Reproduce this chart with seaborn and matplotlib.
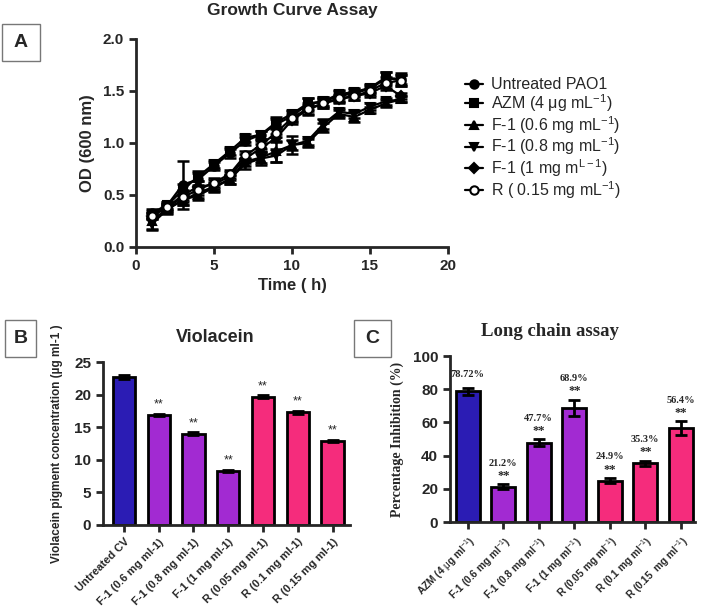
import numpy as np
import pandas as pd
import seaborn as sns
import matplotlib.pyplot as plt
from matplotlib.patches import Rectangle

# ---- data ----
hours = list(range(1, 18))

od_untreated = [0.33, 0.40, 0.60, 0.65, 0.78, 0.90, 1.02, 1.08, 1.18, 1.26, 1.37, 1.40, 1.45, 1.48, 1.52, 1.62, 1.62]
od_azm = [0.32, 0.40, 0.55, 0.68, 0.80, 0.92, 1.05, 1.08, 1.20, 1.28, 1.38, 1.40, 1.47, 1.49, 1.53, 1.63, 1.60]
od_f1_06 = [0.25, 0.37, 0.45, 0.50, 0.57, 0.65, 0.82, 0.86, 0.92, 0.98, 1.00, 1.15, 1.28, 1.25, 1.32, 1.38, 1.42]
od_f1_08 = [0.22, 0.36, 0.45, 0.52, 0.58, 0.65, 0.80, 0.85, 0.88, 0.98, 1.02, 1.18, 1.30, 1.28, 1.35, 1.40, 1.42]
od_f1_1 = [0.30, 0.38, 0.50, 0.58, 0.60, 0.68, 0.85, 0.95, 1.05, 1.22, 1.32, 1.38, 1.42, 1.45, 1.48, 1.55, 1.45]
od_r015 = [0.30, 0.38, 0.48, 0.55, 0.62, 0.70, 0.88, 0.98, 1.10, 1.24, 1.33, 1.38, 1.43, 1.45, 1.50, 1.58, 1.60]

err_untreated = [0.04, 0.03, 0.23, 0.06, 0.04, 0.04, 0.04, 0.04, 0.05, 0.05, 0.06, 0.04, 0.05, 0.04, 0.04, 0.06, 0.05]
err_azm = [0.03, 0.03, 0.06, 0.05, 0.04, 0.04, 0.04, 0.04, 0.05, 0.04, 0.05, 0.04, 0.04, 0.04, 0.04, 0.05, 0.05]
err_f1_06 = [0.08, 0.04, 0.05, 0.05, 0.04, 0.04, 0.04, 0.05, 0.10, 0.09, 0.04, 0.04, 0.04, 0.05, 0.03, 0.03, 0.03]
err_f1_08 = [0.06, 0.04, 0.05, 0.05, 0.04, 0.04, 0.05, 0.06, 0.06, 0.05, 0.04, 0.05, 0.04, 0.04, 0.03, 0.03, 0.03]
err_f1_1 = [0.03, 0.03, 0.05, 0.05, 0.04, 0.04, 0.04, 0.04, 0.04, 0.04, 0.05, 0.04, 0.04, 0.04, 0.04, 0.04, 0.03]
err_r015 = [0.03, 0.03, 0.05, 0.05, 0.04, 0.04, 0.04, 0.04, 0.04, 0.04, 0.05, 0.04, 0.04, 0.04, 0.04, 0.05, 0.05]

growth_labels = ['Untreated PAO1', r'AZM (4 $\mu$g mL$^{-1}$)', r'F-1 (0.6 mg mL$^{-1}$)',
                 r'F-1 (0.8 mg mL$^{-1}$)', r'F-1 (1 mg m$^{L-1}$)', r'R ( 0.15 mg mL$^{-1}$)']
growth_markers = ['o', 's', '^', 'v', 'D', 'o']

viol_labels = ['Untreated CV', 'F-1 (0.6 mg ml-1)', 'F-1 (0.8 mg ml-1)', 'F-1 (1 mg ml-1)',
               'R (0.05 mg ml-1)', 'R (0.1 mg ml-1)', 'R (0.15 mg ml-1)']
viol_values = [22.7, 16.9, 14.0, 8.3, 19.7, 17.3, 12.9]
viol_err = [0.25, 0.2, 0.2, 0.2, 0.2, 0.2, 0.2]

lc_labels = [r'AZM (4 $\mu$g ml$^{-1}$)', r'F-1 (0.6 mg ml$^{-1}$)', r'F-1 (0.8 mg ml$^{-1}$)',
             r'F-1 (1 mg ml$^{-1}$)', r'R (0.05 mg ml$^{-1}$)', r'R (0.1 mg ml$^{-1}$)',
             r'R (0.15  mg ml$^{-1}$)']
lc_values = [78.72, 21.2, 47.7, 68.9, 24.9, 35.3, 56.4]
lc_err = [2.2, 1.6, 2.2, 4.8, 1.6, 1.6, 4.2]
lc_text = ['78.72%', '21.2%', '47.7%', '68.9%', '24.9%', '35.3%', '56.4%']

bar_colors = ['#2b1cb4', '#a22ad2', '#a22ad2', '#a22ad2', '#f52c7c', '#f52c7c', '#f52c7c']

sns.set_style('ticks')
plt.rcParams['font.family'] = ['Liberation Sans', 'DejaVu Sans']
plt.rcParams['mathtext.fontset'] = 'custom'
plt.rcParams['mathtext.rm'] = 'Liberation Sans'
plt.rcParams['mathtext.it'] = 'Liberation Sans'
plt.rcParams['mathtext.bf'] = 'Liberation Sans:bold'

W, H = 702, 606
fig = plt.figure(figsize=(W / 100, H / 100), dpi=100)


def px_axes(x0, y0, x1, y1):
    return fig.add_axes([x0 / W, 1 - y1 / H, (x1 - x0) / W, (y1 - y0) / H])


def box(x0, y0, x1, y1, letter):
    fig.patches.append(Rectangle((x0 / W, 1 - y1 / H), (x1 - x0) / W, (y1 - y0) / H,
                                 transform=fig.transFigure, fill=False, edgecolor='#777777', lw=1))
    fig.text((x0 + x1) / 2 / W, 1 - (y0 + y1) / 2 / H, letter, ha='center', va='center',
             fontsize=14, fontweight='bold')


def style_axes(ax):
    sns.despine(ax=ax)
    for s in ['left', 'bottom']:
        ax.spines[s].set_linewidth(2)
    ax.tick_params(width=2, length=5)


# ---- Panel A ----
axA = px_axes(136, 39, 448, 247)
series = [od_untreated, od_azm, od_f1_06, od_f1_08, od_f1_1, od_r015]
errs = [err_untreated, err_azm, err_f1_06, err_f1_08, err_f1_1, err_r015]
for vals, er, lab, mk in zip(series, errs, growth_labels, growth_markers):
    face = 'white' if lab.startswith('R') else 'black'
    axA.errorbar(hours, vals, yerr=er, fmt='none', ecolor='black', elinewidth=1.8, capsize=4, capthick=1.8)
    sns.lineplot(x=hours, y=vals, ax=axA, color='black', lw=1.6, marker=mk,
                 markersize=6 if mk != 'D' else 5,
                 markerfacecolor=face, markeredgecolor='black', markeredgewidth=1.5, label=lab)
axA.set_xlim(0, 20)
axA.set_ylim(0, 2.0)
axA.set_xticks([0, 5, 10, 15, 20])
axA.set_yticks([0, 0.5, 1.0, 1.5, 2.0])
axA.set_yticklabels(['0.0', '0.5', '1.0', '1.5', '2.0'])
for t in axA.get_xticklabels() + axA.get_yticklabels():
    t.set_fontweight('bold')
    t.set_fontsize(11)
axA.set_xlabel('Time ( h)', fontsize=12, fontweight='bold', labelpad=4)
axA.set_ylabel('OD (600 nm)', fontsize=12, fontweight='bold', labelpad=6)
style_axes(axA)
axA.legend(loc='upper left', bbox_to_anchor=(1.02, 0.87), frameon=False, fontsize=11.5,
           handlelength=1.1, labelspacing=0.0, handletextpad=0.5, borderpad=0.2)
fig.text(292 / W, 1 - 10 / H, 'Growth Curve Assay', ha='center', va='center', fontsize=12.5, fontweight='bold')
box(2, 24, 40, 61, 'A')

# ---- Panel B ----
axB = px_axes(103, 362, 350, 525)
sns.barplot(x=viol_labels, y=viol_values, hue=viol_labels, palette=bar_colors, legend=False,
            ax=axB, width=0.64, edgecolor='black', linewidth=2, saturation=1)
axB.errorbar(range(len(viol_values)), viol_values, yerr=viol_err, fmt='none', ecolor='black',
             elinewidth=2, capsize=4, capthick=2)
for i, v in enumerate(viol_values[1:], start=1):
    axB.text(i, v + 0.7, '**', ha='center', va='bottom', fontsize=9)
axB.set_xlim(-0.6, 6.5)
axB.set_ylim(0, 25)
axB.set_yticks([0, 5, 10, 15, 20, 25])
axB.set_xticks(range(len(viol_labels)))
axB.set_xticklabels(viol_labels, rotation=45, ha='right', rotation_mode='anchor',
                    fontsize=8, fontweight='bold')
for t in axB.get_yticklabels():
    t.set_fontweight('bold')
    t.set_fontsize(11)
axB.set_ylabel('Violacein pigment concentration (µg ml-1 )', fontsize=8.5, fontweight='bold', labelpad=8)
style_axes(axB)
fig.text(215 / W, 1 - 338 / H, 'Violacein', ha='center', va='center', fontsize=13, fontweight='bold')
box(5, 320, 36, 357, 'B')

# ---- Panel C ----
axC = px_axes(450, 356, 695, 522)
sns.barplot(x=lc_labels, y=lc_values, hue=lc_labels, palette=bar_colors, legend=False,
            ax=axC, width=0.68, edgecolor='black', linewidth=2, saturation=1)
axC.errorbar(range(len(lc_values)), lc_values, yerr=lc_err, fmt='none', ecolor='black',
             elinewidth=2, capsize=4, capthick=2)
for i, (v, e, s) in enumerate(zip(lc_values, lc_err, lc_text)):
    top = v + e + 1.5
    if i > 0:
        axC.text(i, top, '**', ha='center', va='bottom', fontsize=9, family='Liberation Serif', fontweight='bold')
        top += 8.5
    else:
        top += 4
    axC.text(i, top, s, ha='center', va='bottom', fontsize=7.5, family='Liberation Serif', fontweight='bold')
axC.set_xlim(-0.5, 6.4)
axC.set_ylim(0, 100)
axC.set_yticks([0, 20, 40, 60, 80, 100])
axC.set_xticks(range(len(lc_labels)))
axC.set_xticklabels(lc_labels, rotation=45, ha='right', rotation_mode='anchor',
                    fontsize=7.3, fontweight='bold')
for t in axC.get_yticklabels():
    t.set_fontweight('bold')
    t.set_fontsize(11)
axC.set_ylabel('Percentage Inhibition (%)', fontsize=10, fontweight='bold',
               family='Liberation Serif', labelpad=6)
style_axes(axC)
fig.text(550 / W, 1 - 332 / H, 'Long chain assay', ha='center', va='center', fontsize=13.5,
         fontweight='bold', family='Liberation Serif')
box(354, 320, 391, 357, 'C')

fig.savefig('out.png', dpi=100)
